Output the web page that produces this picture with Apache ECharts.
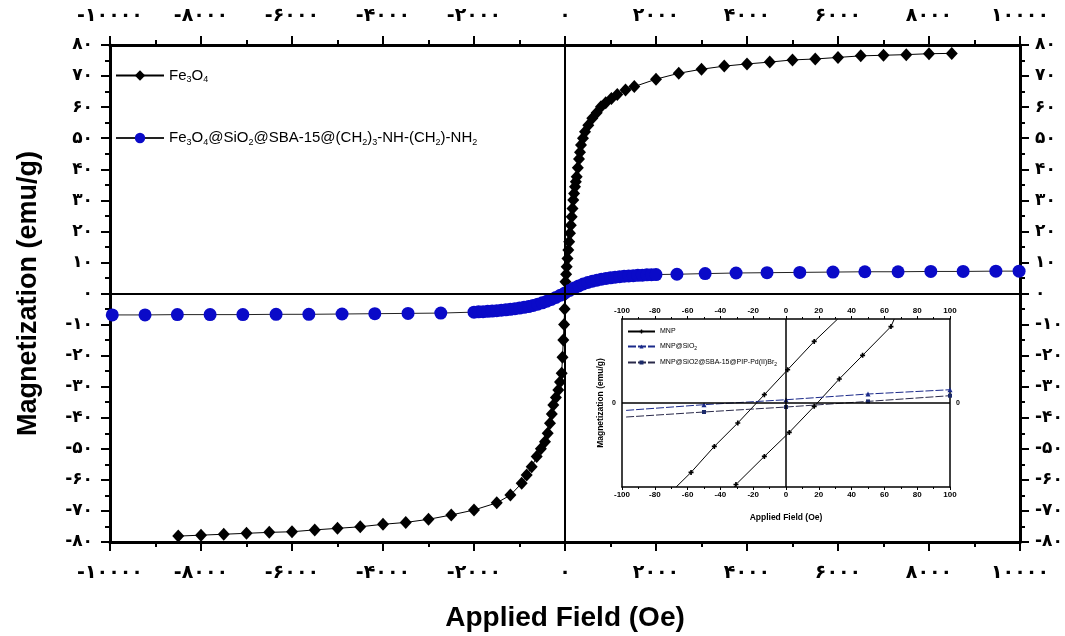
<!DOCTYPE html>
<html><head><meta charset="utf-8">
<script src="https://cdn.jsdelivr.net/npm/echarts@6/dist/echarts.min.js"></script>
<style>html,body{margin:0;padding:0;background:#fff}#c{width:1065px;height:636px}</style>
</head><body><div id="c"></div>
<script>
// ---- tick labels ----
const xTickValues = [-10000,-8000,-6000,-4000,-2000,0,2000,4000,6000,8000,10000];
const xTickLabels = ['-۱۰۰۰۰','-۸۰۰۰','-۶۰۰۰','-۴۰۰۰','-۲۰۰۰','۰','۲۰۰۰','۴۰۰۰','۶۰۰۰','۸۰۰۰','۱۰۰۰۰'];
const yTickValues = [-80,-70,-60,-50,-40,-30,-20,-10,0,10,20,30,40,50,60,70,80];
const yTickLabels = ['-۸۰','-۷۰','-۶۰','-۵۰','-۴۰','-۳۰','-۲۰','-۱۰','۰','۱۰','۲۰','۳۰','۴۰','۵۰','۶۰','۷۰','۸۰'];
const insetYTickValues = [-10,0,10];
const insetYTickLabels = ['','0',''];

// ---- series names ----
const seriesNames = ['Fe3O4','Fe3O4@SiO2@SBA-15@(CH2)3-NH-(CH2)-NH2'];
const insetNames = ['MNP','MNP@SiO2','MNP@SiO2@SBA-15@PIP-Pd(II)Br2'];

// ---- Fe3O4 (black diamonds) ----
const feX = [-8500,-8000,-7500,-7000,-6500,-6000,-5500,-5000,-4500,-4000,-3500,-3000,-2500,-2000,-1500,-1200,
  -952,-842,-732,-622,-530,-440,-380,-330,-290,-257,-200,-147,-110,-73,-55,-37,-20,-8,0,10,25,37,55,73,92,110,128,147,165,182,200,220,238,257,282,308,330,352,395,440,512,600,697,791,895,1020,1149,1330,1523,
  2000,2500,3000,3500,4000,4500,5000,5500,6000,6500,7000,7500,8000,8500];
const feM = [-78.1,-77.8,-77.5,-77.2,-76.9,-76.7,-76.1,-75.6,-75.1,-74.3,-73.7,-72.7,-71.3,-69.7,-67.4,-64.9,
  -61.1,-58.4,-55.8,-52.5,-50.0,-47.7,-45.0,-41.8,-38.8,-35.9,-33.5,-31.1,-28.5,-25.7,-20.5,-15.0,-10.0,-5.0,-0.5,3.8,6.2,8.6,11.3,14.0,16.7,19.4,22.0,24.7,27.4,30.1,32.2,34.4,36.0,37.6,40.5,43.3,45.5,47.8,50.0,52.1,54.2,56.4,58.2,60.1,61.4,62.8,64.1,65.5,66.6,
  69.0,70.9,72.2,73.2,73.9,74.5,75.2,75.5,76.0,76.5,76.7,76.9,77.2,77.3];

// ---- functionalised sample (blue circles) ----
const blueX = [-9950,-9230,-8520,-7800,-7080,-6350,-5630,-4900,-4180,-3450,-2730,
  -2000,-1900,-1800,-1700,-1600,-1500,-1400,-1300,-1200,-1100,-1000,-900,-800,-700,-600,-500,-400,-300,-200,-100,
  0,100,200,300,400,500,600,700,800,900,1000,1100,1200,1300,1400,1500,1600,1700,1800,1900,2000,
  2460,3080,3760,4440,5160,5890,6590,7320,8040,8750,9470,9980];
const blueM = [-6.9,-6.9,-6.8,-6.8,-6.8,-6.7,-6.7,-6.6,-6.5,-6.4,-6.3,
  -6.0,-5.9,-5.85,-5.75,-5.65,-5.55,-5.4,-5.25,-5.1,-4.9,-4.7,-4.45,-4.2,-3.85,-3.45,-3.0,-2.5,-1.9,-1.25,-0.55,
  0.2,1.0,1.75,2.45,3.05,3.55,3.95,4.3,4.6,4.85,5.05,5.25,5.4,5.55,5.65,5.75,5.85,5.9,6.0,6.05,6.1,
  6.2,6.4,6.6,6.7,6.8,6.9,7.0,7.0,7.1,7.1,7.2,7.2];

// ---- inset (low field) ----
const mnpAX = [-67,-57.9,-43.7,-29.4,-13.2,1.0,17.2,31.5];
const mnpAM = [-10,-8.26,-5.17,-2.38,0.99,3.96,7.33,10];
const mnpBX = [-31.5,-30.5,-13.2,2.0,17.2,32.5,46.7,64,66];
const mnpBM = [-10,-9.7,-6.36,-3.5,-0.4,2.86,5.67,9.1,10];
const sioX = [-97.5,-50,0,50,100];
const sioM = [-0.88,-0.2,0.39,1.07,1.58];
const pdX = [-97.5,-50,0,50,100];
const pdM = [-1.67,-1.07,-0.48,0.19,0.87];

function zip(xs, ys){ return xs.map((x,i)=>[x, ys[i]]); }
function zipEnds(xs, ys){
  return xs.map((x,i)=>{
    const it = {value:[x, ys[i]]};
    if (i===0 || i===xs.length-1) it.symbol = 'none';
    return it;
  });
}
function lookup(vals, labels){ return v => { const i = vals.findIndex(t=>Math.abs(t-v)<1e-6); return i<0?'':labels[i]; }; }

const legendRich = {
  'Fe3O4': '{n|Fe}{s|3}{n|O}{s|4}',
  'Fe3O4@SiO2@SBA-15@(CH2)3-NH-(CH2)-NH2': '{n|Fe}{s|3}{n|O}{s|4}{n|@SiO}{s|2}{n|@SBA-15@(CH}{s|2}{n|)}{s|3}{n|-NH-(CH}{s|2}{n|)-NH}{s|2}',
  'MNP': '{n|MNP}',
  'MNP@SiO2': '{n|MNP@SiO}{s|2}',
  'MNP@SiO2@SBA-15@PIP-Pd(II)Br2': '{n|MNP@SiO2@SBA-15@PIP-Pd(II)Br}{s|2}'
};

const tickFont = {fontFamily:'DejaVu Sans', fontWeight:'bold', color:'#000'};

function mainX(pos, withName){
  const a = {
    gridIndex:0, type:'value', position:pos, min:-10000, max:10000, interval:2000,
    axisLine:{show:true, onZero:false, lineStyle:{color:'#000', width:3}},
    axisTick:{show:true, length:9, lineStyle:{color:'#000', width:2}},
    minorTick:{show:true, splitNumber:2, length:5, lineStyle:{color:'#000', width:2}},
    splitLine:{show:false},
    axisLabel:Object.assign({margin:pos==='top'?19:22, fontSize:19, formatter:lookup(xTickValues,xTickLabels), showMinLabel:true, showMaxLabel:true}, tickFont)
  };
  if (withName){
    a.name = 'Applied Field (Oe)'; a.nameLocation='middle'; a.nameGap=62;
    a.nameTextStyle = {fontFamily:'Liberation Sans', fontWeight:'bold', fontSize:28, color:'#000'};
  }
  return a;
}
function mainY(pos, withName){
  const a = {
    gridIndex:0, type:'value', position:pos, min:-80, max:80, interval:10,
    axisLine:{show:true, onZero:false, lineStyle:{color:'#000', width:3}},
    axisTick:{show:true, length:9, lineStyle:{color:'#000', width:2}},
    minorTick:{show:true, splitNumber:2, length:5, lineStyle:{color:'#000', width:2}},
    splitLine:{show:false},
    axisLabel:Object.assign({margin:pos==='left'?17:15, fontSize:17, formatter:lookup(yTickValues,yTickLabels), showMinLabel:true, showMaxLabel:true}, tickFont)
  };
  if (withName){
    a.name = 'Magnetization (emu/g)'; a.nameLocation='middle'; a.nameGap=68;
    a.nameTextStyle = {fontFamily:'Liberation Sans', fontWeight:'bold', fontSize:27, color:'#000'};
  }
  return a;
}
function insetX(pos, withName){
  const a = {
    gridIndex:1, type:'value', position:pos, min:-100, max:100, interval:20,
    axisLine:{show:true, onZero:false, lineStyle:{color:'#000', width:1.5}},
    axisTick:{show:true, length:3, lineStyle:{color:'#000', width:1}},
    minorTick:{show:true, splitNumber:2, length:2, lineStyle:{color:'#000', width:1}},
    splitLine:{show:false},
    axisLabel:{margin:4, fontFamily:'Liberation Sans', fontWeight:'bold', fontSize:8, color:'#000', showMinLabel:true, showMaxLabel:true}
  };
  if (withName){
    a.name = 'Applied Field (Oe)'; a.nameLocation='middle'; a.nameGap=26;
    a.nameTextStyle = {fontFamily:'Liberation Sans', fontWeight:'bold', fontSize:8.5, color:'#000'};
  }
  return a;
}
function insetY(pos, withName){
  const a = {
    gridIndex:1, type:'value', position:pos, min:-10, max:10, interval:10,
    axisLine:{show:true, onZero:false, lineStyle:{color:'#000', width:1.5}},
    axisTick:{show:false},
    splitLine:{show:false},
    axisLabel:{margin:6, fontFamily:'Liberation Sans', fontWeight:'bold', fontSize:7, color:'#000', formatter:lookup(insetYTickValues,insetYTickLabels)}
  };
  if (withName){
    a.name = 'Magnetization (emu/g)'; a.nameLocation='middle'; a.nameGap=17;
    a.nameTextStyle = {fontFamily:'Liberation Sans', fontWeight:'bold', fontSize:8.5, color:'#000'};
  }
  return a;
}

const plusPath = 'path://M2,0h2v2h2v2h-2v2h-2v-2h-2v-2h2z';

const option = {
  animation:false,
  backgroundColor:'#fff',
  grid:[
    {left:110, right:45, top:45, bottom:94, containLabel:false, outerBoundsMode:'none'},
    {left:622, right:115, top:319, bottom:149, containLabel:false, outerBoundsMode:'none'}
  ],
  xAxis:[ mainX('bottom', true), mainX('top', false), insetX('bottom', true), insetX('top', false) ],
  yAxis:[ mainY('left', true), mainY('right', false), insetY('left', true), insetY('right', false) ],
  legend:[
    {
      left:110, top:63, orient:'vertical', itemGap:46, itemWidth:48, itemHeight:13,
      data:seriesNames,
      formatter:n=>legendRich[n],
      textStyle:{color:'#000', fontFamily:'Liberation Sans', fontSize:15,
        rich:{n:{fontFamily:'Liberation Sans', fontSize:15, color:'#000', lineHeight:18},
              s:{fontFamily:'Liberation Sans', fontSize:9, color:'#000', lineHeight:10, verticalAlign:'bottom'}}}
    },
    {
      left:622, top:323, orient:'vertical', itemGap:8, itemWidth:27, itemHeight:5,
      data:insetNames,
      formatter:n=>legendRich[n],
      textStyle:{color:'#000', fontFamily:'Liberation Sans', fontSize:7,
        rich:{n:{fontFamily:'Liberation Sans', fontSize:7, color:'#000', lineHeight:9},
              s:{fontFamily:'Liberation Sans', fontSize:5, color:'#000', lineHeight:5, verticalAlign:'bottom'}}}
    }
  ],
  series:[
    {
      name:seriesNames[0], type:'line', xAxisIndex:0, yAxisIndex:0,
      data:zip(feX, feM), symbol:'diamond', symbolSize:[12,13],
      itemStyle:{color:'#000'}, lineStyle:{color:'#000', width:1}, z:2,
      markLine:{silent:true, symbol:'none', label:{show:false},
        lineStyle:{color:'#000', width:2, type:'solid'},
        data:[{xAxis:0},{yAxis:0}]}
    },
    {
      name:seriesNames[1], type:'line', xAxisIndex:0, yAxisIndex:0,
      data:zip(blueX, blueM), symbol:'circle', symbolSize:13,
      itemStyle:{color:'#0a0ac8'}, lineStyle:{color:'#222', width:1}, z:3
    },
    {
      name:insetNames[0], type:'line', xAxisIndex:2, yAxisIndex:2,
      data:zipEnds(mnpAX, mnpAM), symbol:plusPath, symbolSize:5,
      itemStyle:{color:'#000'}, lineStyle:{color:'#000', width:1},
      markLine:{silent:true, symbol:'none', label:{show:false},
        lineStyle:{color:'#000', width:1.5, type:'solid'},
        data:[{xAxis:0},{yAxis:0}]}
    },
    {
      name:insetNames[0], type:'line', xAxisIndex:2, yAxisIndex:2,
      data:zipEnds(mnpBX, mnpBM), symbol:plusPath, symbolSize:5,
      itemStyle:{color:'#000'}, lineStyle:{color:'#000', width:1}
    },
    {
      name:insetNames[1], type:'line', xAxisIndex:2, yAxisIndex:2,
      data:zip(sioX, sioM).map((p,i)=>i===0?{value:p,symbol:'none'}:p), symbol:'triangle', symbolSize:5,
      itemStyle:{color:'#1b2a8a'}, lineStyle:{color:'#1b2a8a', width:1, type:[8,2]}
    },
    {
      name:insetNames[2], type:'line', xAxisIndex:2, yAxisIndex:2,
      data:zip(pdX, pdM).map((p,i)=>i===0?{value:p,symbol:'none'}:p), symbol:'rect', symbolSize:4,
      itemStyle:{color:'#1b2a6a'}, lineStyle:{color:'#2a2a4a', width:1, type:[8,2]}
    }
  ]
};

const chart = echarts.init(document.getElementById('c'), null, {renderer:'canvas'});
chart.setOption(option);
</script>
</body></html>
